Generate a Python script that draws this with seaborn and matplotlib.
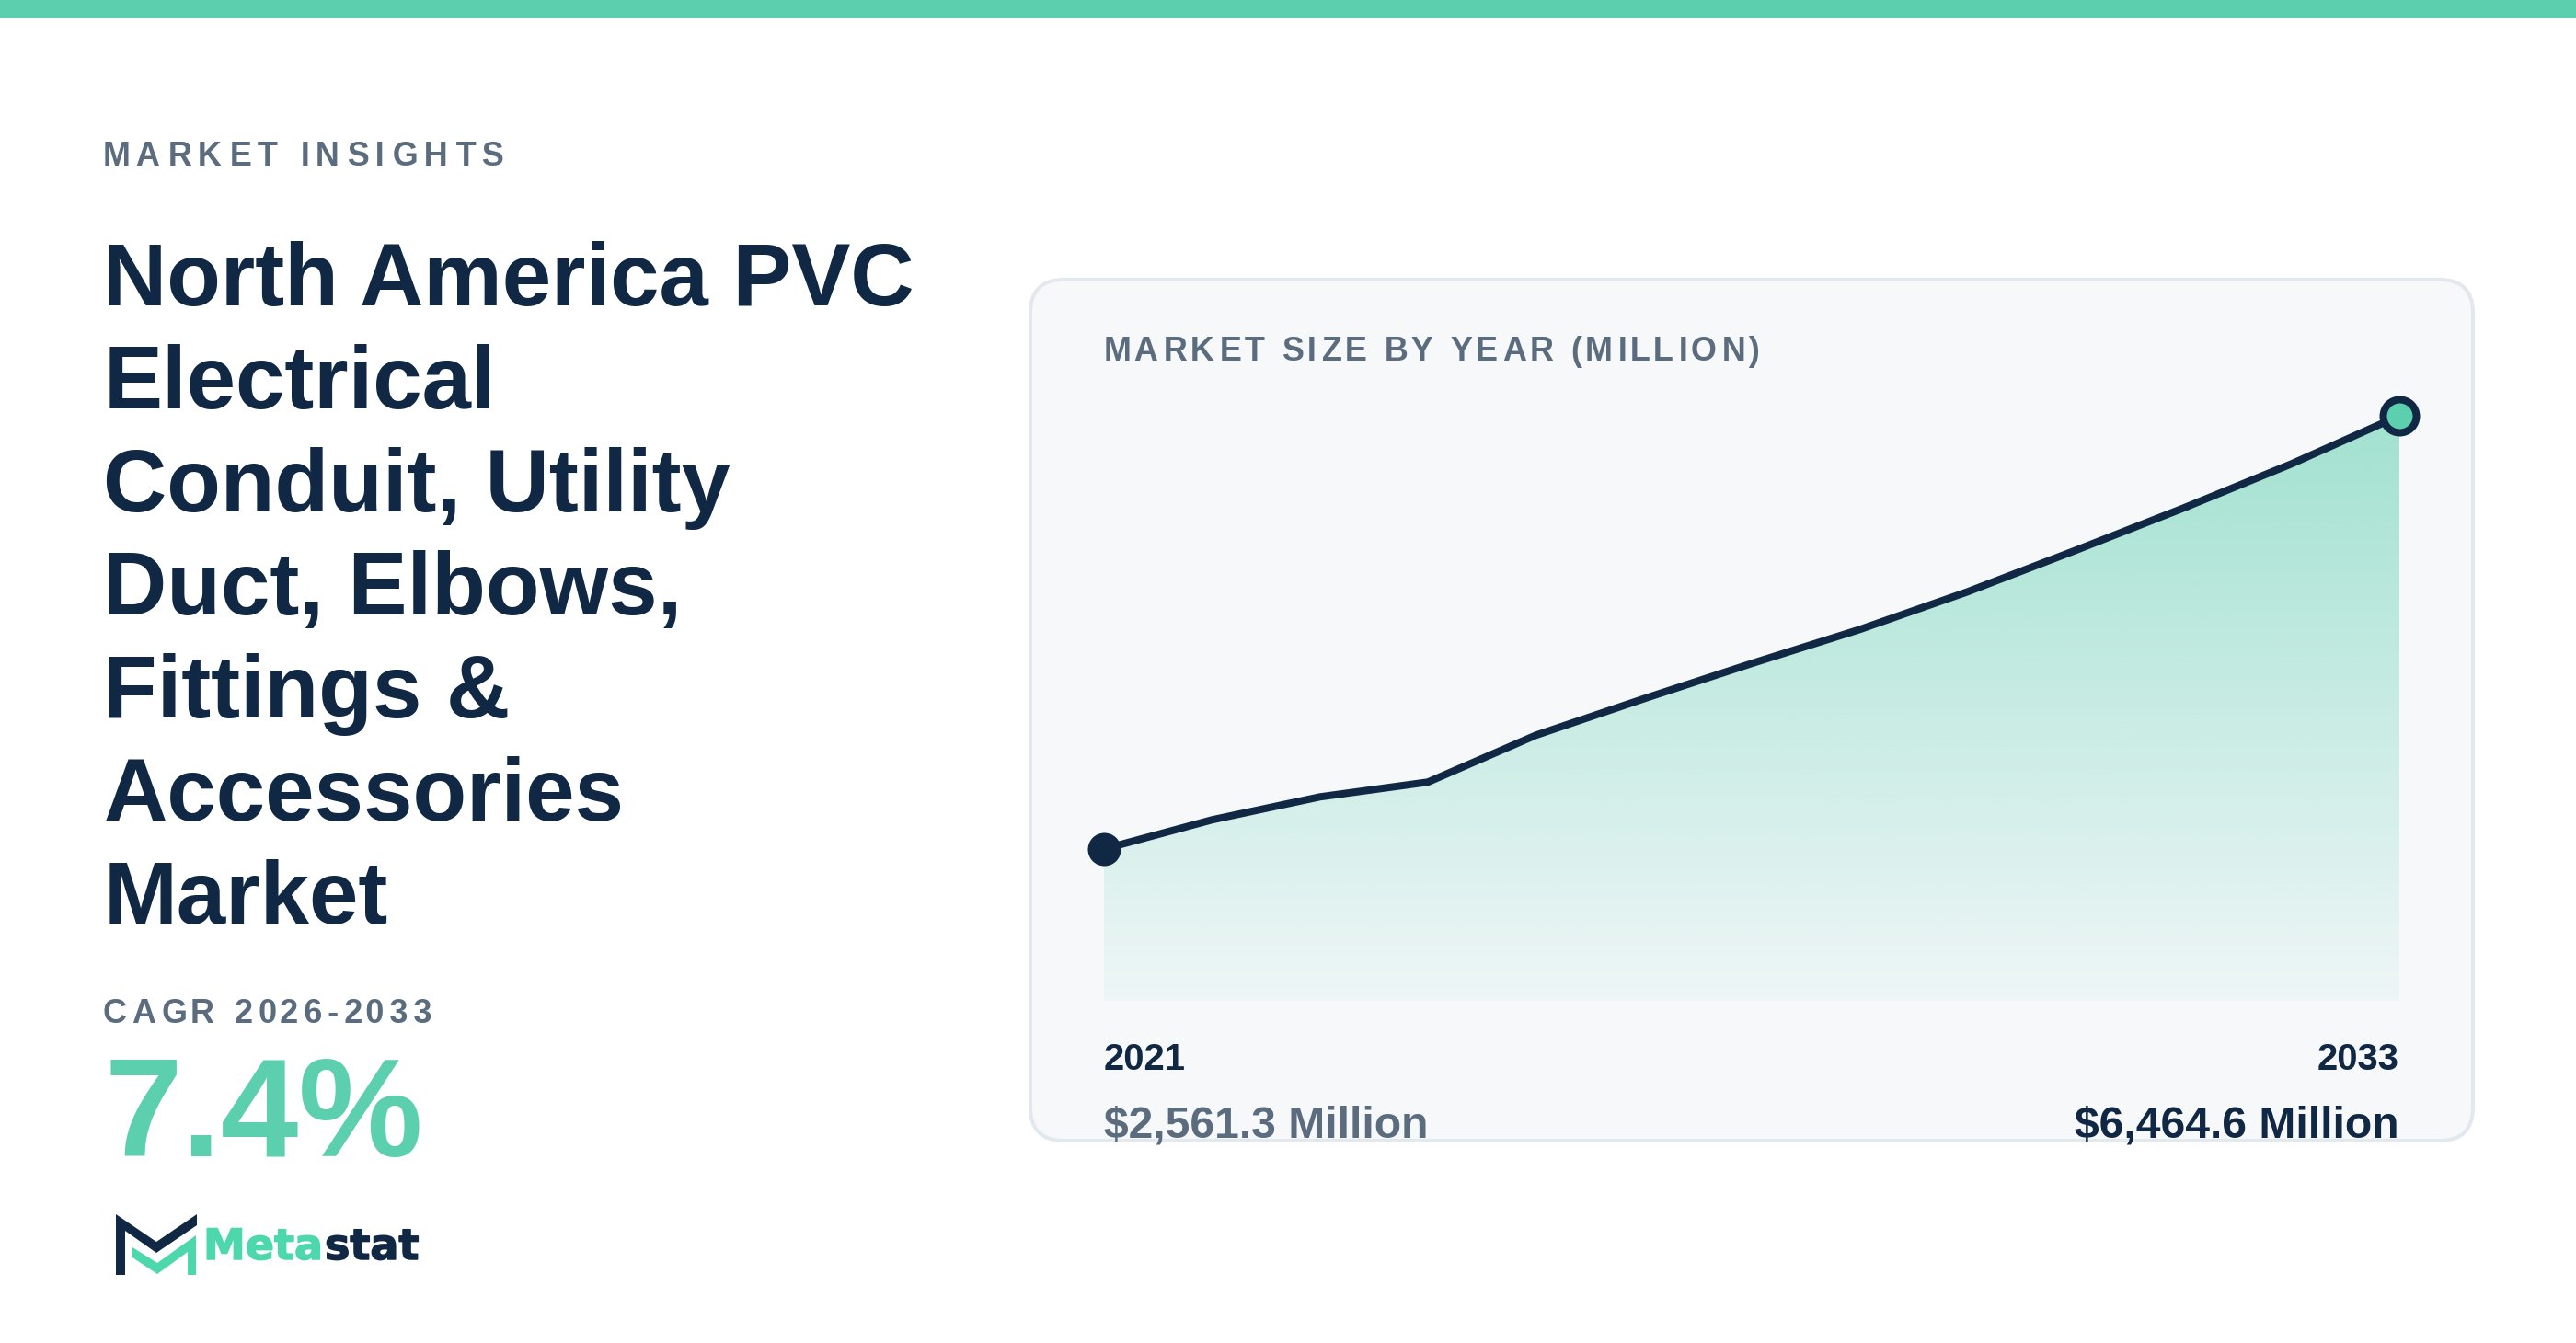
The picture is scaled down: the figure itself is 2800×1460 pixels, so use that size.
import numpy as np
import pandas as pd
import matplotlib
matplotlib.use("Agg")
import matplotlib.pyplot as plt
import matplotlib.patheffects as pe
from matplotlib.patches import FancyBboxPatch, Polygon, Rectangle
import seaborn as sns

years = [2021, 2022, 2023, 2024, 2025, 2026, 2027, 2028, 2029, 2030, 2031, 2032, 2033]
values = [2561.3, 2824, 3031, 3164, 3586, 3915, 4233, 4539, 4879, 5252, 5633, 6031, 6464.6]
title_lines = ["North America PVC", "Electrical", "Conduit, Utility", "Duct, Elbows,", "Fittings &", "Accessories", "Market"]

NAVY = "#102843"
GREY = "#5a6c7d"
GREEN = "#5ccfae"
LOGO = "#4dd8ac"
BASE = 1193.7

sns.set_theme(style="white")
plt.rcParams["font.family"] = ["Liberation Sans", "DejaVu Sans"]
plt.rcParams["font.weight"] = "bold"

W, H = 2800, 1460
fig = plt.figure(figsize=(W / 200, H / 200), dpi=200, facecolor="white")
PX = 72 / 200

bg = fig.add_axes([0, 0, 1, 1], zorder=0)
bg.set_xlim(0, W); bg.set_ylim(H, 0); bg.axis("off")
bg.add_patch(Rectangle((0, 0), W, 20, fc=GREEN, ec="none"))
bg.add_patch(FancyBboxPatch((1120 + 36, 304 + 36), 1568 - 72, 936 - 72, boxstyle="round,pad=36,rounding_size=36",
                            fc="#f6f8fa", ec="#e2e8ee", lw=4 * PX))

renderer = fig.canvas.get_renderer()

def txt(ax, x, y, s, px, color, ha="left", **kw):
    return ax.text(x, y, s, fontsize=px * PX, color=color, ha=ha, va="baseline", fontweight="bold", **kw)

def spaced(s, px, gap):
    """Letter-spacing inside one string: hair spaces, as many as keep the running gap on target."""
    a = txt(bg, 0, 0, "HH", px, GREY); b = txt(bg, 0, 0, "H\u200aH", px, GREY)
    hair = b.get_window_extent(renderer).width - a.get_window_extent(renderer).width
    a.remove(); b.remove()
    out, used = s[0], 0
    for k, ch in enumerate(s[1:], 1):
        n = int(round((k * gap - used * hair) / hair))
        used += n
        out += "\u200a" * n + ch
    return out

txt(bg, 112, 180, spaced("MARKET INSIGHTS", 36, 7.28), 36, GREY)
for i, line in enumerate(title_lines):
    txt(bg, 112.5, 332 + 112 * i, line, 96, NAVY)
txt(bg, 112, 1112, spaced("CAGR 2026-2033", 36, 5.25), 36, GREY)
txt(bg, 113, 1257, "7.4%", 152, GREEN)

# logo
bg.add_patch(Polygon([(126, 1320), (170, 1350), (214, 1320), (214, 1332), (170, 1362), (136, 1338), (136, 1386), (126, 1386)], fc=NAVY, ec="none"))
bg.add_patch(Polygon([(144, 1356), (171, 1373), (213, 1343), (213, 1386), (204, 1386), (204, 1361), (171, 1385), (144, 1367)], fc=LOGO, ec="none"))
for x, word, col in [(221, "Meta", LOGO), (353, "stat", NAVY)]:
    bg.text(x, 1369, word, fontsize=46 * PX, color=col, family="DejaVu Sans", fontweight="bold", va="baseline",
            path_effects=[pe.withStroke(linewidth=1.5 * PX, foreground=col)])

# card text
txt(bg, 1200, 392, spaced("MARKET SIZE BY YEAR (MILLION)", 36, 4.18), 36, GREY)
txt(bg, 1200, 1163, str(years[0]), 40, NAVY)
txt(bg, 2608, 1163, str(years[-1]), 40, NAVY, ha="right")
txt(bg, 1200, 1237, f"${values[0]:,.1f} Million", 48, GREY)
txt(bg, 2608, 1237, f"${values[-1]:,.1f} Million", 48, NAVY, ha="right")

# chart
ax = fig.add_axes([1200 / W, 1 - 1088 / H, 1408 / W, 636 / H], zorder=1)
ax.patch.set_alpha(0)
df = pd.DataFrame({"year": years, "value": values})
top_rgb = np.array(matplotlib.colors.to_rgb(GREEN))
n = 256
grad = np.zeros((n, 1, 4))
grad[..., :3] = top_rgb
grad[:, 0, 3] = np.linspace(0.55, 0.05, n)
im = ax.imshow(grad, extent=(years[0], years[-1], BASE, values[-1]), origin="upper", aspect="auto", zorder=1)
clip = Polygon(list(zip(years, values)) + [(years[-1], BASE), (years[0], BASE)], closed=True, transform=ax.transData, fc="none", ec="none")
ax.add_patch(clip)
im.set_clip_path(clip)
sns.lineplot(data=df, x="year", y="value", ax=ax, color=NAVY, linewidth=8 * PX, zorder=3, clip_on=False, errorbar=None)
sns.scatterplot(data=df.iloc[[0]], x="year", y="value", ax=ax, s=(36 * PX) ** 2, color=NAVY, edgecolor=NAVY, linewidth=0, zorder=4, clip_on=False)
sns.scatterplot(data=df.iloc[[-1]], x="year", y="value", ax=ax, s=(36 * PX) ** 2, color=GREEN, edgecolor=NAVY, linewidth=8 * PX, zorder=4, clip_on=False)
ax.set_xlim(years[0], years[-1])
ax.set_ylim(BASE, values[-1])
ax.axis("off")

fig.savefig("out.png", dpi=200, facecolor="white")
